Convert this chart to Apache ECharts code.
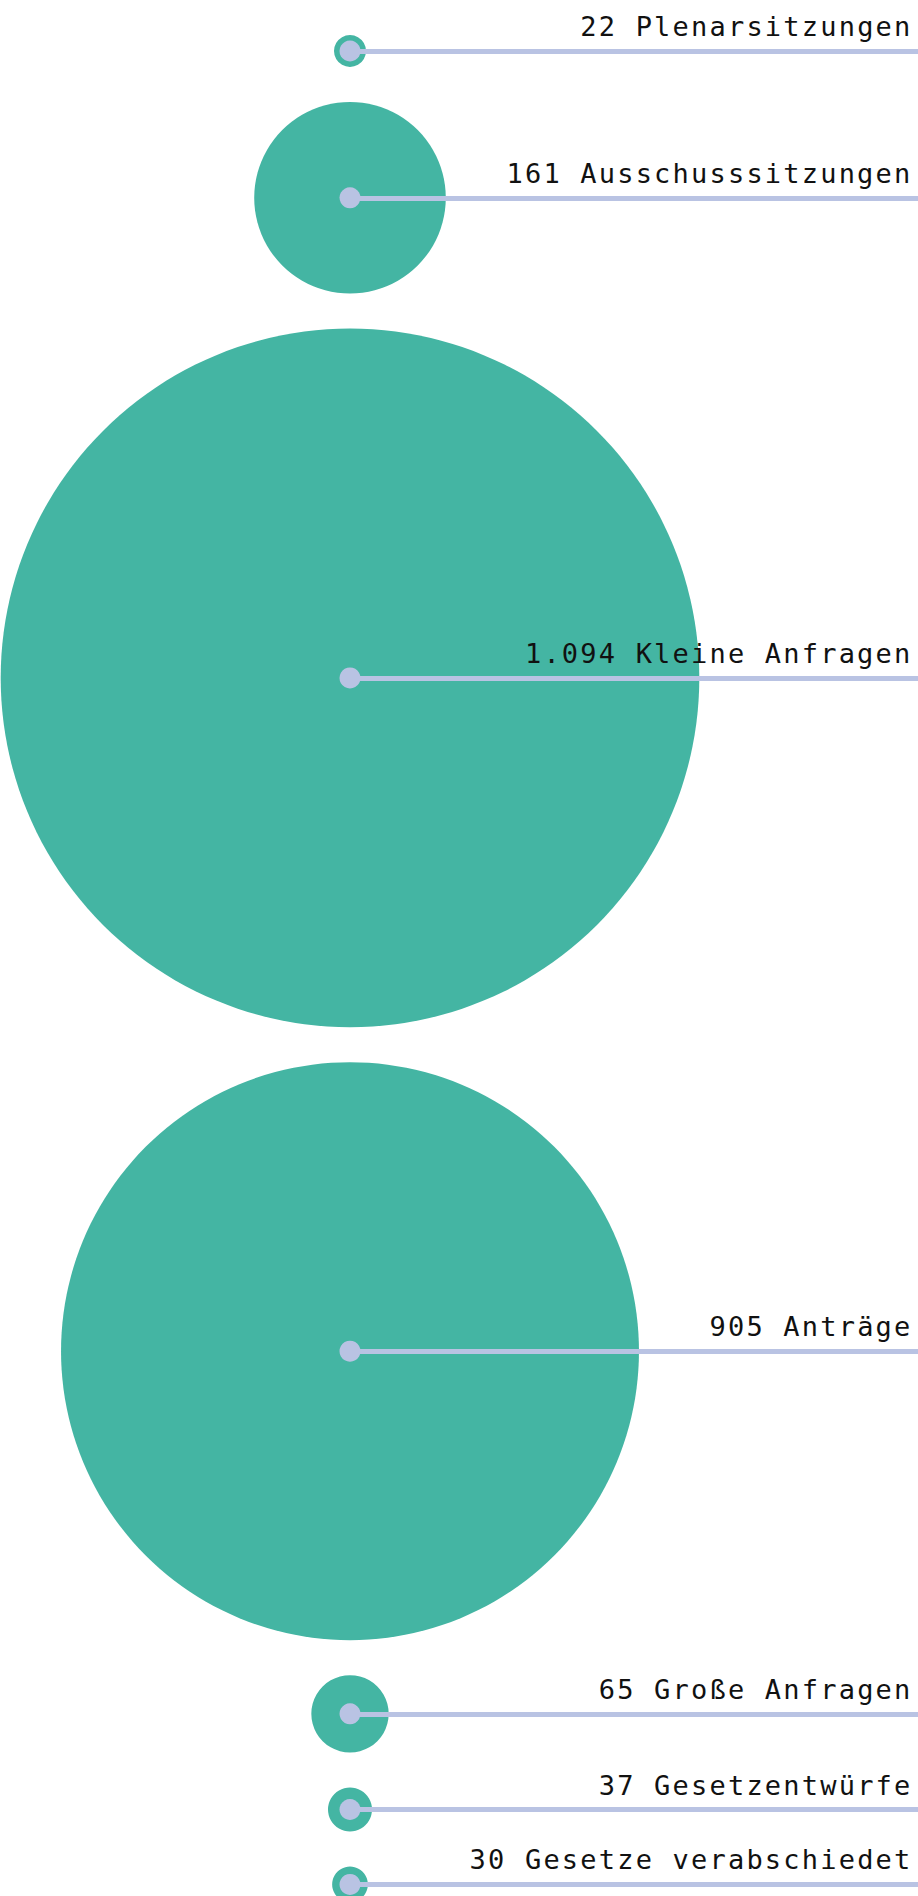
<!DOCTYPE html>
<html>
<head>
<meta charset="utf-8">
<script src="https://cdn.jsdelivr.net/npm/echarts@6/dist/echarts.min.js"></script>
<style>
  html, body { margin: 0; padding: 0; background: #fff; }
  #chart { width: 918px; height: 1896px; }
  /* the original labels are set wide */
  #chart text { letter-spacing: 2.2px; }
</style>
</head>
<body>
<div id="chart"></div>
<script>
// Parlamentsarbeit in Zahlen
const categories = [
  'Plenarsitzungen',
  'Ausschusssitzungen',
  'Kleine Anfragen',
  'Anträge',
  'Große Anfragen',
  'Gesetzentwürfe',
  'Gesetze verabschiedet'
]
const counts = [22, 161, 1094, 905, 65, 37, 30]

const GAP = 35        // space between two bubbles
const CENTER_X = 350  // all bubbles sit on one column
const WIDTH = 918
const HEIGHT = 1896

// kleine Werte linear, die zwei großen kleiner skaliert damit sie passen
function radiusOf(v) {
  const r = v > 500 ? v * 0.3193 : v * 0.595
  return Math.max(16, r)
}

function fmtNumber(v) {
  return String(v).replace(/\B(?=(\d{3})+(?!\d))/g, '.')
}

// stack bubbles from top to bottom
let cursor = 0
const bubbles = counts.map((v, i) => {
  const r = radiusOf(v)
  cursor += GAP + r
  const item = {
    name: fmtNumber(v) + ' ' + categories[i],
    value: [CENTER_X, cursor, v]
  }
  cursor += r
  return item
})

const chart = echarts.init(document.getElementById('chart'), null, { renderer: 'svg' })

chart.setOption({
  animation: false,
  backgroundColor: '#fff',
  grid: { left: 0, right: 0, top: 0, bottom: 0 },
  xAxis: { type: 'value', min: 0, max: WIDTH, show: false },
  yAxis: { type: 'value', min: 0, max: HEIGHT, inverse: true, show: false },
  series: [
    {
      type: 'scatter',
      data: bubbles,
      symbolSize: (val) => radiusOf(val[2]) * 2,
      itemStyle: { color: '#44b5a3', opacity: 1 },
      silent: true,
      z: 1
    },
    {
      type: 'scatter',
      data: bubbles,
      symbolSize: 21,
      itemStyle: { color: '#b9c3e3', opacity: 1 },
      silent: true,
      z: 3,
      markLine: {
        silent: true,
        symbol: 'none',
        lineStyle: { color: '#b9c3e3', width: 5, type: 'solid', opacity: 1 },
        label: {
          show: true,
          position: 'insideEndTop',
          formatter: '{b}',
          color: '#111',
          fontFamily: 'DejaVu Sans Mono',
          fontSize: 27,
          distance: [5.5, 11]
        },
        emphasis: { disabled: true },
        data: bubbles.map(b => [
          { name: b.name, coord: [b.value[0], b.value[1]] },
          { coord: [WIDTH, b.value[1]] }
        ])
      }
    }
  ]
})
</script>
</body>
</html>
